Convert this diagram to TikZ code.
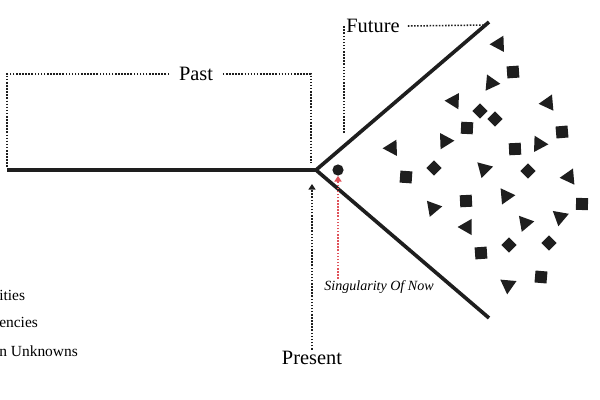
\documentclass[tikz,border=0pt]{standalone}
\usepackage{fontspec}
\setmainfont{Liberation Serif}
\usepackage{tikz}
\usetikzlibrary{positioning,arrows.meta,shapes.geometric}
\definecolor{ink}{HTML}{1E1E1E}
\definecolor{nowred}{HTML}{E0525A}
\tikzset{
  axis/.style={ink, line width=2.6pt},
  dots/.style={ink, line width=1.1pt, dash pattern=on 1.1pt off 1.1pt},
  arr/.style={-{Triangle[length=4pt,width=5pt]}},
  lbl/.style={font=\fontsize{14.5}{16}\selectfont, inner sep=1pt},
  side/.style={font=\fontsize{11}{13}\selectfont, inner sep=0pt, anchor=west},
  tri/.style={regular polygon, regular polygon sides=3, fill=ink, draw=none,
              inner sep=0pt, minimum size=4.7mm},
  sq/.style={rectangle, fill=ink, inner sep=0pt, minimum size=3mm},
  dia/.style={rectangle, fill=ink, inner sep=0pt, minimum size=2.7mm, rotate=45},
}

\begin{document}
\begin{tikzpicture}[x=0.25mm, y=-0.25mm]
  \useasboundingbox (0,0) rectangle (600,400);
  % time axis
  \coordinate (start) at (7,170);
  \coordinate (v) at (316,170);
  \coordinate (up) at (489,22);
  \coordinate (lo) at (489,318);
  \draw[axis] (up) -- (v) -- (lo);
  \draw[axis] (start) -- (v);
  % past bracket
  \node[lbl, inner xsep=2.4mm] (past) at (196,74) {Past};
  \coordinate (pl) at (7,167);
  \coordinate (pr) at (311,163);
  \draw[dots] (past.west) -- (pl |- past) -- (pl);
  \draw[dots] (past.east) -- (pr |- past) -- (pr);
  % future bracket
  \node[lbl, inner xsep=2mm] (future) at (373,26) {Future};
  \coordinate (fl) at (344,133);
  \coordinate (fr) at (487,25);
  \draw[dots] (fl) -- (fl |- future);
  \draw[dots] (future.east) -- (fr);
  % present
  \node[lbl] (present) at (312,358) {Present};
  \coordinate (pt) at (312,184);
  \draw[dots, arr] (present.north) -- (pt);
  % singularity of now
  \node[circle, fill=ink, inner sep=0pt, minimum size=2.8mm] (now) at (338,170) {};
  \node[font=\fontsize{10}{12}\selectfont\itshape, inner sep=1pt] (sing) at (379,287) {Singularity Of Now};
  \draw[dots, nowred, arr] (sing.north -| now) -- (now.south);
  % side notes
  \node[side] (n1) at (-1,295) {ities};
  \node[side] (n2) at (-1,322) {encies};
  \node[side] (n3) at (-1,351) {n Unknowns};
  % futures
  \foreach \x/\y/\r [count=\i] in {499/44/92, 491/83/-95, 454/101/88, 548/103/95,
      445/141/-88, 392/148/92, 539/144/-92, 484/169/165, 569/177/95, 506/196/-85,
      433/208/160, 467/227/90, 525/223/-80, 560/217/-70, 508/285/175}
    \node[tri, rotate=\r] (t\i) at (\x,\y) {};
  \foreach \x/\y/\r [count=\i] in {513/72/4, 467/128/-3, 562/132/5, 515/149/3,
      406/177/-4, 466/201/3, 582/204/-2, 481/253/4, 541/277/-5}
    \node[sq, rotate=\r] (s\i) at (\x,\y) {};
  \foreach \x/\y [count=\i] in {480/111, 495/119, 434/168, 528/171, 509/245, 549/243}
    \node[dia] (d\i) at (\x,\y) {};
\end{tikzpicture}
\end{document}
